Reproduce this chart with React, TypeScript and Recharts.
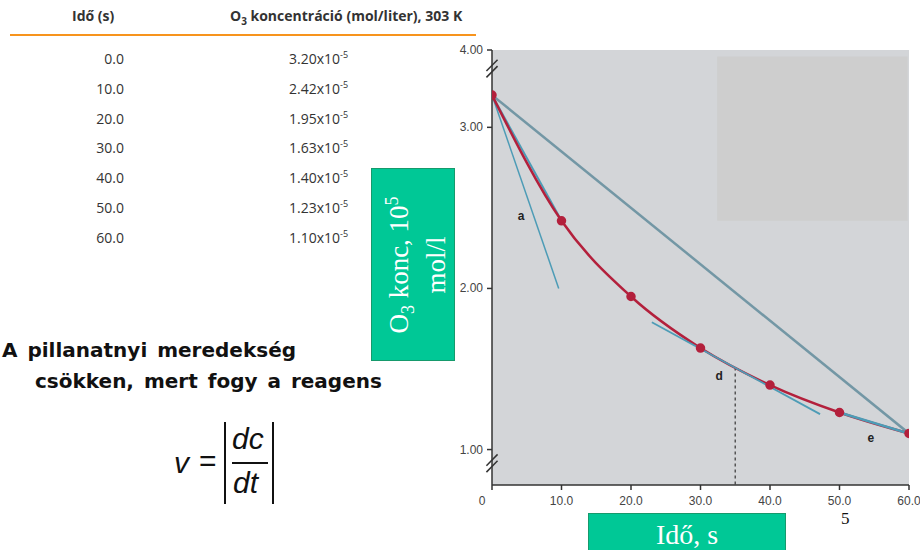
import { ComposedChart, Line, XAxis, YAxis, CartesianGrid, ReferenceArea, ReferenceDot, ReferenceLine } from 'recharts';

// mérési adatok (O3 bomlás, 303 K)
const times = [0, 10, 20, 30, 40, 50, 60];
const concentrations = [3.2, 2.42, 1.95, 1.63, 1.4, 1.23, 1.1];

// érintők és húrok [t, c]
const tangentA = [[0, 3.2], [9.6, 2.0]];
const chordA = [[0, 3.2], [10, 2.42]];
const chordFull = [[0, 3.2], [60, 1.1]];
const tangentD = [[23, 1.79], [47.2, 1.22]];
const chordE = [[50, 1.23], [60, 1.1]];
const dropD = [[35, 1.51], [35, 0.78]];

const xTicks = [0, 10, 20, 30, 40, 50, 60];
const yTicks = [1, 2, 3, 3.48];
const yTickLabels = ['1.00', '2.00', '3.00', '4.00'];

const curveData = times.map((t, i) => ({ t, c: concentrations[i] }));
const toPts = (arr: number[][]) => arr.map(([t, c]) => ({ t, c }));

const BLUE = '#4d9cb6';
const RED = '#b3203c';
const GREEN = '#00c896';
const sans = '"Liberation Sans", Arial, sans-serif';
const serif = '"Liberation Serif", "Times New Roman", serif';
const tableFont = '"Open Sans", "DejaVu Sans", sans-serif';

function XTick(props: any) {
  const { x, y, payload } = props;
  const v = payload.value;
  return (
    <text x={v === 0 ? x - 10 : x} y={y + 13} textAnchor="middle" fontSize={12} fill="#444" fontFamily={sans}>
      {v === 0 ? '0' : v.toFixed(1)}
    </text>
  );
}

function YTick(props: any) {
  const { x, y, payload } = props;
  const i = yTicks.indexOf(payload.value);
  return (
    <text x={x - 2} y={y + 4} textAnchor="end" fontSize={12} fill="#444" fontFamily={sans}>
      {yTickLabels[i]}
    </text>
  );
}

function Table() {
  const rowTop = 59;
  const rowGap = 29.8;
  return (
    <div style={{ position: 'absolute', left: 0, top: 0, width: 480, height: 260, fontFamily: tableFont, color: '#333' }}>
      <div style={{ position: 'absolute', left: 72, top: 6, fontSize: 14, fontWeight: 'bold', lineHeight: '20px' }}>Idő (s)</div>
      <div style={{ position: 'absolute', left: 230, top: 6, fontSize: 14, fontWeight: 'bold', whiteSpace: 'nowrap', lineHeight: '20px' }}>
        O<sub style={{ fontSize: 10, lineHeight: 0 }}>3</sub> koncentráció (mol/liter), 303 K
      </div>
      <div style={{ position: 'absolute', left: 10, top: 34, width: 466, height: 2, background: '#f7941d' }} />
      {times.map((t, i) => (
        <div key={t}>
          <div style={{ position: 'absolute', left: 60, width: 64, textAlign: 'right', top: rowTop + i * rowGap - 10, fontSize: 14, lineHeight: '20px' }}>
            {t.toFixed(1)}
          </div>
          <div style={{ position: 'absolute', left: 289, top: rowTop + i * rowGap - 10, fontSize: 14, whiteSpace: 'nowrap', lineHeight: '20px' }}>
            {concentrations[i].toFixed(2)}x10<sup style={{ fontSize: 9, lineHeight: 0 }}>-5</sup>
          </div>
        </div>
      ))}
    </div>
  );
}

export default function App() {
  return (
    <div style={{ position: 'absolute', left: 0, top: 0, width: 922, height: 550, background: '#fff', overflow: 'hidden' }}>
      <Table />

      <div style={{ position: 'absolute', left: 2, top: 335, fontFamily: '"DejaVu Sans", sans-serif', fontWeight: 'bold', fontSize: 20, color: '#111', whiteSpace: 'nowrap', lineHeight: '31px', wordSpacing: 3 }}>
        A pillanatnyi meredekség
        <br />
        <span style={{ marginLeft: 33 }}>csökken, mert fogy a reagens</span>
      </div>

      {/* v = |dc/dt| */}
      <div style={{ position: 'absolute', left: 172, top: 420, width: 110, height: 86, fontFamily: sans, fontStyle: 'italic', color: '#111' }}>
        <div style={{ position: 'absolute', left: 2, top: 26, fontSize: 30 }}>v</div>
        <div style={{ position: 'absolute', left: 27, top: 24, fontSize: 30, fontStyle: 'normal' }}>=</div>
        <div style={{ position: 'absolute', left: 52, top: 2, width: 2, height: 82, background: '#111' }} />
        <div style={{ position: 'absolute', left: 60, top: 2, fontSize: 30 }}>dc</div>
        <div style={{ position: 'absolute', left: 60, top: 42, width: 36, height: 1.5, background: '#111' }} />
        <div style={{ position: 'absolute', left: 61, top: 46, fontSize: 30 }}>dt</div>
        <div style={{ position: 'absolute', left: 100, top: 2, width: 2, height: 82, background: '#111' }} />
      </div>

      <div style={{ position: 'absolute', left: 440, top: 30 }}>
        <ComposedChart width={480} height={510} data={curveData} margin={{ top: 20, right: 11, bottom: 25, left: 0 }}>
          <CartesianGrid horizontal={false} vertical={false} fill="#d3d5d8" />
          <ReferenceArea x1={32.4} x2={59.8} y1={2.42} y2={3.44} fill="#cecece" fillOpacity={1} stroke="none" />
          <XAxis
            dataKey="t"
            type="number"
            domain={[0, 60]}
            ticks={xTicks}
            tick={<XTick />}
            tickSize={5}
            height={30}
            stroke="#333"
            strokeWidth={1.5}
            allowDataOverflow
          />
          <YAxis
            type="number"
            domain={[0.78, 3.48]}
            ticks={yTicks}
            tick={<YTick />}
            tickSize={5}
            width={52}
            stroke="#333"
            strokeWidth={1.5}
            allowDataOverflow
          />
          <ReferenceLine segment={[{ x: -0.8, y: 3.31 }, { x: 0.8, y: 3.38 }]} stroke="#333" strokeWidth={1.5} ifOverflow="visible" />
          <ReferenceLine segment={[{ x: -0.8, y: 3.35 }, { x: 0.8, y: 3.42 }]} stroke="#333" strokeWidth={1.5} ifOverflow="visible" />
          <ReferenceLine segment={[{ x: -0.8, y: 0.86 }, { x: 0.8, y: 0.93 }]} stroke="#333" strokeWidth={1.5} ifOverflow="visible" />
          <ReferenceLine segment={[{ x: -0.8, y: 0.9 }, { x: 0.8, y: 0.97 }]} stroke="#333" strokeWidth={1.5} ifOverflow="visible" />

          <Line data={toPts(dropD)} dataKey="c" stroke="#555" strokeWidth={1.5} strokeDasharray="3 3" dot={false} isAnimationActive={false} />
          <Line data={toPts(chordFull)} dataKey="c" stroke="#7397a5" strokeWidth={2.5} dot={false} isAnimationActive={false} />
          <Line data={toPts(tangentA)} dataKey="c" stroke={BLUE} strokeWidth={1.5} dot={false} isAnimationActive={false} />
          <Line data={toPts(chordA)} dataKey="c" stroke={BLUE} strokeWidth={2} dot={false} isAnimationActive={false} />
          <Line dataKey="c" type="monotone" stroke={RED} strokeWidth={2.5} dot={{ r: 3.5, fill: RED, stroke: RED }} isAnimationActive={false} />
          <Line data={toPts(tangentD)} dataKey="c" stroke={BLUE} strokeWidth={1.8} dot={false} isAnimationActive={false} />
          <Line data={toPts(chordE)} dataKey="c" stroke={BLUE} strokeWidth={2.5} dot={false} isAnimationActive={false} />

          <ReferenceDot x={4.2} y={2.45} r={0} label={{ value: 'a', fontSize: 12, fontWeight: 'bold', fill: '#222', fontFamily: sans }} />
          <ReferenceDot x={32.7} y={1.46} r={0} label={{ value: 'd', fontSize: 12, fontWeight: 'bold', fill: '#222', fontFamily: sans }} />
          <ReferenceDot x={54.5} y={1.075} r={0} label={{ value: 'e', fontSize: 12, fontWeight: 'bold', fill: '#222', fontFamily: sans }} />
        </ComposedChart>
      </div>

      {/* tengelyfeliratok */}
      <div style={{ position: 'absolute', left: 371, top: 168, width: 84, height: 193, background: GREEN, border: '1px solid #169a6c', boxSizing: 'border-box' }}>
        <div style={{ position: 'absolute', left: 42, top: 96, transform: 'translate(-50%, -50%) rotate(-90deg)', color: '#fff', fontFamily: serif, fontSize: 27, lineHeight: '28px', textAlign: 'center', whiteSpace: 'nowrap' }}>
          O<sub style={{ fontSize: 18 }}>3</sub> konc, 10<sup style={{ fontSize: 18 }}>5</sup>
          <br />
          mol/l
        </div>
      </div>
      <div style={{ position: 'absolute', left: 588, top: 513, width: 198, height: 45, background: GREEN, border: '1px solid #169a6c', boxSizing: 'border-box', color: '#fff', fontFamily: serif, fontSize: 28, textAlign: 'center', lineHeight: '42px' }}>
        Idő, s
      </div>
      <div style={{ position: 'absolute', left: 841, top: 509, fontFamily: serif, fontSize: 17, color: '#111' }}>5</div>
    </div>
  );
}
